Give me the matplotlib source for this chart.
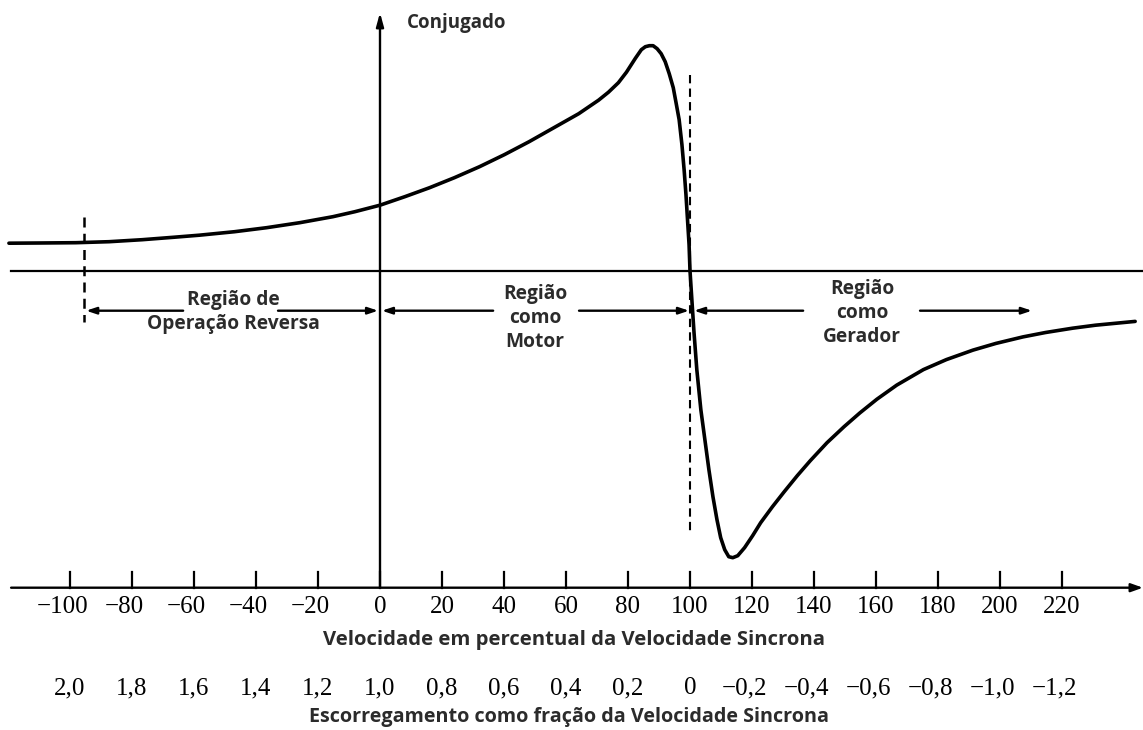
import matplotlib
matplotlib.use("Agg")
import matplotlib.pyplot as plt
import numpy as np

# torque-speed curve (speed in % of synchronous, torque in arbitrary units)
speed = [-119.7, -110.0, -98.1, -87.4, -76.7, -66.3, -58.3, -46.9, -36.6, -25.9,
         -15.2, -8.1, 0.0, 8.0, 16.0, 24.0, 32.1, 40.1, 48.1, 56.1,
         64.1, 70.5, 73.7, 76.9, 79.5, 82.4, 84.3, 85.6, 86.9, 88.1,
         89.4, 90.7, 92.0, 93.3, 94.6, 95.5, 96.5, 97.4, 98.1, 98.7,
         99.2, 99.7, 100.0, 100.6, 101.3, 102.2, 103.5, 104.8, 106.1, 107.4,
         108.7, 109.9, 111.2, 112.5, 113.8, 115.4, 117.6, 120.2, 122.8, 126.6,
         130.4, 134.6, 138.8, 144.2, 149.7, 154.8, 160.3, 166.7, 175.3, 182.7,
         191.3, 198.7, 207.4, 214.7, 223.4, 230.8, 243.6]
torque = [0.275, 0.277, 0.28, 0.29, 0.31, 0.335, 0.355, 0.39, 0.43, 0.48,
          0.54, 0.59, 0.655, 0.74, 0.83, 0.93, 1.04, 1.16, 1.29, 1.43,
          1.57, 1.705, 1.785, 1.88, 1.985, 2.125, 2.21, 2.24, 2.25, 2.25,
          2.22, 2.17, 2.09, 1.97, 1.83, 1.68, 1.51, 1.26, 1.01, 0.76,
          0.51, 0.26, 0.0, -0.29, -0.62, -0.99, -1.39, -1.69, -1.99, -2.26,
          -2.49, -2.67, -2.79, -2.86, -2.87, -2.85, -2.77, -2.65, -2.52, -2.36,
          -2.21, -2.05, -1.90, -1.72, -1.56, -1.422, -1.285, -1.144, -0.989, -0.889,
          -0.794, -0.727, -0.662, -0.618, -0.575, -0.545, -0.507]

speed_ticks = [-100, -80, -60, -40, -20, 0, 20, 40, 60, 80, 100, 120, 140, 160, 180, 200, 220]
slip_ticks = [2.0, 1.8, 1.6, 1.4, 1.2, 1.0, 0.8, 0.6, 0.4, 0.2, 0.0, -0.2, -0.4, -0.6, -0.8, -1.0, -1.2]

ink = "#2b2b2b"
sans = ["Open Sans", "DejaVu Sans"]
serif = ["Liberation Serif", "DejaVu Serif"]
wt = "bold"

fig = plt.figure(figsize=(11.43, 7.30), dpi=100)
ax = fig.add_axes([0, 0, 1, 1])
ax.set_xlim(-122.58, 246.13)
ax.set_ylim(-4.593, 2.707)
ax.axis("off")

y_axis = -3.17  # level of the speed axis

# curve
ax.plot(speed, torque, color="black", lw=2.6, solid_joinstyle="round", solid_capstyle="round")

# zero torque line
ax.plot([-119, 246.13], [0, 0], color="black", lw=1.6)

# speed axis with arrow
ax.annotate("", xy=(246.1, y_axis), xytext=(-119, y_axis),
            arrowprops=dict(arrowstyle="-|>,head_length=0.7,head_width=0.25", color="black", lw=1.7,
                            shrinkA=0, shrinkB=0))
# torque axis with arrow
ax.annotate("", xy=(0, 2.58), xytext=(0, y_axis),
            arrowprops=dict(arrowstyle="-|>,head_length=0.8,head_width=0.22", color="black", lw=1.7,
                            shrinkA=0, shrinkB=0))
ax.text(8.7, 2.477, "Conjugado", fontsize=13.5, fontweight=wt, family=sans, color=ink,
        ha="left", va="center")

# ticks and labels
for v in speed_ticks:
    ax.plot([v, v], [y_axis, y_axis + 0.16], color="black", lw=1.6)
    off = -2.4 if v < 0 else 0
    ax.text(v + off, -3.363, str(v).replace("-", "\u2212"), fontsize=18, family=serif,
            ha="center", va="center", color="black")

for s in slip_ticks:
    x = 100 * (1 - s)
    lab = "0" if s == 0 else ("%.1f" % s).replace(".", ",").replace("-", "\u2212")
    off = -2.4 if s < 0 else 0
    ax.text(x + off, -4.173, lab, fontsize=18, family=serif, ha="center", va="center", color="black")

ax.text(62.5, -3.693, "Velocidade em percentual da Velocidade Sincrona", fontsize=14.6,
        fontweight=wt, family=sans, color=ink, ha="center", va="center")
ax.text(61, -4.463, "Escorregamento como fração da Velocidade Sincrona", fontsize=14.2,
        fontweight=wt, family=sans, color=ink, ha="center", va="center")

# dashed boundaries
ax.plot([-95.5, -95.5], [0.54, -0.51], color="black", lw=1.8, ls=(0, (4, 2.5)))
ax.plot([100, 100], [1.96, -2.61], color="black", lw=1.5, ls=(0, (4, 2.5)))

# region arrows
ya = -0.40
arrows = [(-63.5, -94.8), (-32.9, -0.6), (36.5, 0.6), (64.2, 99.7), (136.5, 101.3), (174.2, 210.3)]
for x0, x1 in arrows:
    ax.annotate("", xy=(x1, ya), xytext=(x0, ya),
                arrowprops=dict(arrowstyle="-|>,head_length=0.6,head_width=0.2", color="black",
                                lw=1.7, shrinkA=0, shrinkB=0))

ax.text(-47.4, -0.41, "Região de\nOperação Reversa", fontsize=13.8, fontweight=wt, family=sans,
        color=ink, ha="center", va="center", linespacing=1.25)
ax.text(50, -0.473, "Região\ncomo\nMotor", fontsize=13.8, fontweight=wt, family=sans,
        color=ink, ha="center", va="center", linespacing=1.25)
ax.text(155.5, -0.423, "Região\ncomo\nGerador", fontsize=13.8, fontweight=wt, family=sans,
        color=ink, ha="center", va="center", linespacing=1.25)

fig.savefig("out.png", dpi=100)
